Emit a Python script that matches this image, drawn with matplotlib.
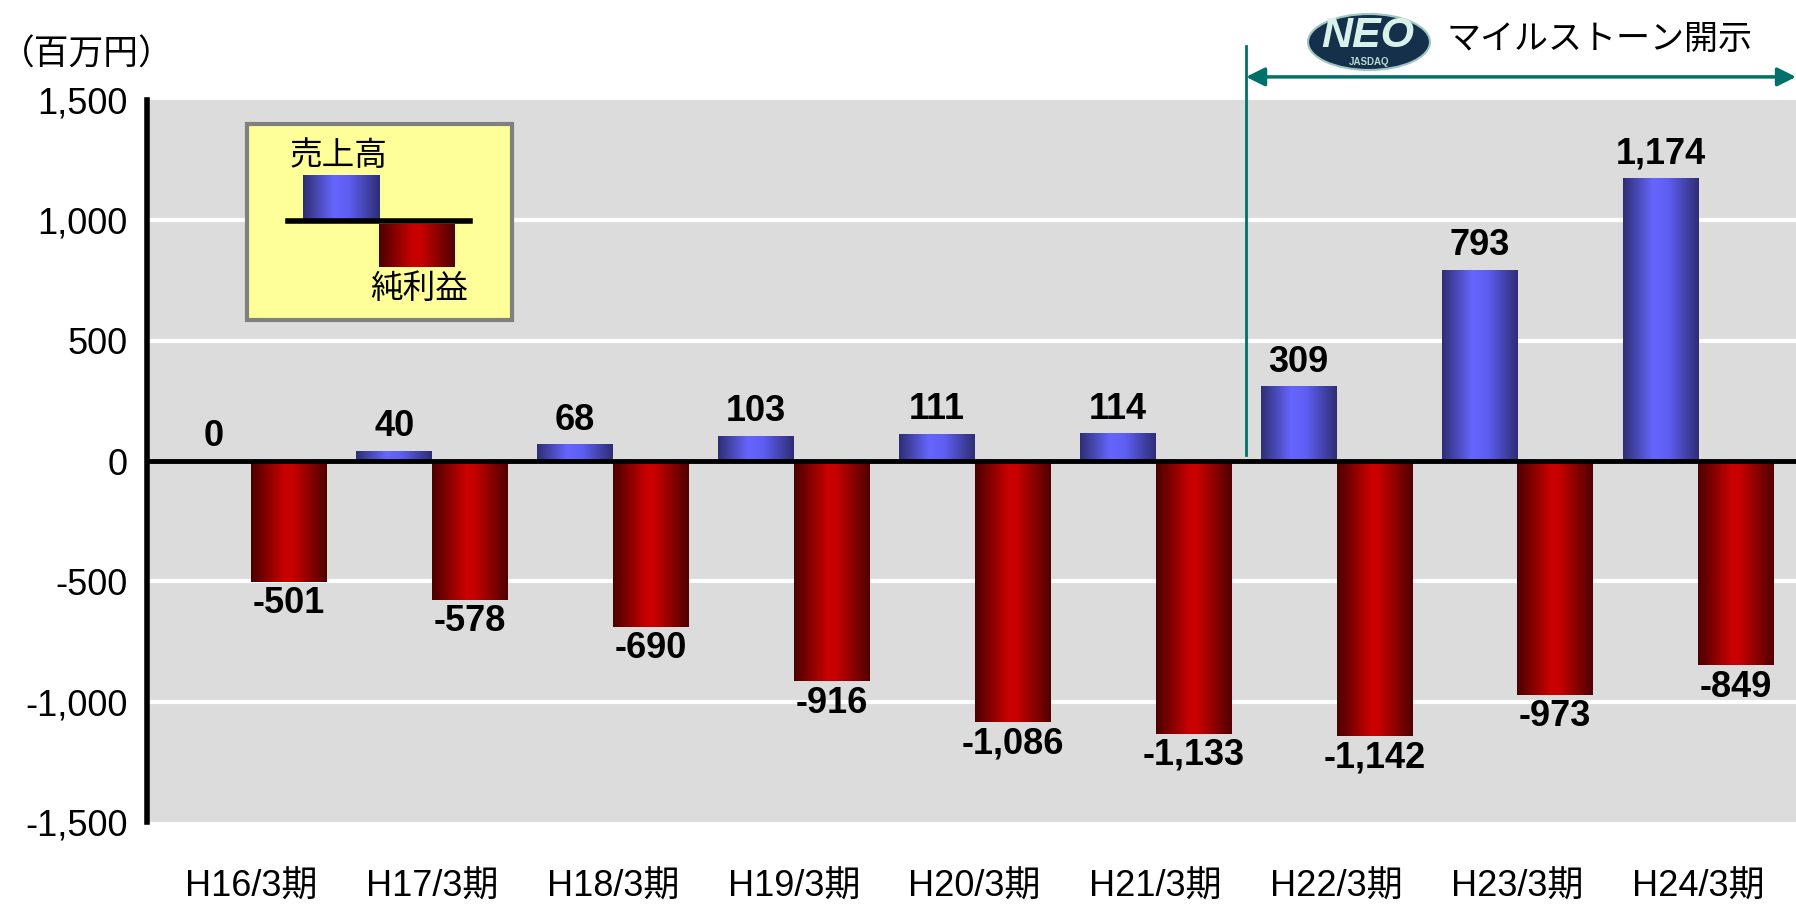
import numpy as np
import matplotlib
matplotlib.use("Agg")
import matplotlib.pyplot as plt
from matplotlib.colors import LinearSegmentedColormap
from matplotlib.patches import Rectangle, Ellipse

plt.rcParams['font.family'] = ['Liberation Sans', 'Noto Sans CJK JP', 'DejaVu Sans']

periods = ["H16/3期", "H17/3期", "H18/3期", "H19/3期", "H20/3期",
           "H21/3期", "H22/3期", "H23/3期", "H24/3期"]
sales = [0, 40, 68, 103, 111, 114, 309, 793, 1174]
net_income = [-501, -578, -690, -916, -1086, -1133, -1142, -973, -849]
yticks = [-1500, -1000, -500, 0, 500, 1000, 1500]

blue_cmap = LinearSegmentedColormap.from_list(
    "blue", [(0, "#2e2e74"), (0.4, "#6666ff"), (0.6, "#5e5ef2"), (1, "#2e2e74")])
red_cmap = LinearSegmentedColormap.from_list(
    "red", [(0, "#4a0000"), (0.45, "#cc0000"), (0.55, "#c80000"), (1, "#500000")])
grad = np.linspace(0, 1, 256).reshape(1, -1)


def fill_gradient(ax, patches, cmap):
    # paint each bar with a horizontal shading gradient
    for p in patches:
        x0, y0 = p.get_x(), p.get_y()
        w, h = p.get_width(), p.get_height()
        if h == 0:
            continue
        p.set_facecolor("none")
        ax.imshow(grad, extent=[x0, x0 + w, min(y0, y0 + h), max(y0, y0 + h)],
                  aspect="auto", cmap=cmap, zorder=2, interpolation="bicubic")


fig = plt.figure(figsize=(17.96, 9.05), dpi=100)
ax = fig.add_axes([0.0818, 0.0917, 0.9182, 0.7978])
ax.set_facecolor("#dcdcdc")

x = np.arange(len(periods))
w = 0.418
b1 = ax.bar(x - w / 2, sales, width=w, edgecolor="none", zorder=2)
b2 = ax.bar(x + w / 2, net_income, width=w, edgecolor="none", zorder=2)
fill_gradient(ax, b1, blue_cmap)
fill_gradient(ax, b2, red_cmap)

for xi, v in zip(x, sales):
    ax.annotate(f"{v:,}", (xi - w / 2, v), xytext=(0, 5), textcoords="offset points",
                ha="center", va="bottom", fontsize=26, fontweight="bold", zorder=5)
for xi, v in zip(x, net_income):
    ax.annotate(f"{v:,}", (xi + w / 2, v), xytext=(0, -3), textcoords="offset points",
                ha="center", va="top", fontsize=26, fontweight="bold", zorder=5)

ax.set_xlim(-0.576, 8.54)
ax.set_ylim(-1500, 1500)
ax.set_yticks(yticks)
ax.set_yticklabels([f"{t:,}" for t in yticks], fontsize=26)
ax.set_xticks(x)
ax.set_xticklabels(periods, fontsize=26)
ax.tick_params(axis="x", length=0, pad=34)
ax.tick_params(axis="y", length=0, pad=14)
for t in yticks:
    if t not in (0, -1500, 1500):
        ax.axhline(t, color="white", lw=3, zorder=1)
ax.axhline(0, color="black", lw=3.5, zorder=3)
for s in ["top", "right", "bottom"]:
    ax.spines[s].set_visible(False)
ax.spines["left"].set_linewidth(4)

# milestone marker
teal = "#00706a"
ax.plot([5.5, 5.5], [25, 1725], color=teal, lw=2, clip_on=False, zorder=4)
ax.annotate("", xy=(8.54, 1596), xytext=(5.5, 1596), xycoords="data",
            arrowprops=dict(arrowstyle="<|-|>", color=teal, lw=2.5,
                            mutation_scale=28, shrinkA=0, shrinkB=0),
            annotation_clip=False, zorder=4)

# overlay in pixel coordinates for decorations
ov = fig.add_axes([0, 0, 1, 1])
ov.set_xlim(0, 1796)
ov.set_ylim(905, 0)
ov.axis("off")
ov.patch.set_alpha(0)

ov.text(0, 55, "（百万円）", fontsize=25, ha="left", va="center")

# NEO logo
ov.add_patch(Ellipse((1369, 42), 122, 56, facecolor="#15304a", edgecolor="#9fc6c0", lw=1.5))
ov.text(1368, 36, "NEO", fontsize=31, fontweight="bold", style="italic",
        color="#d8f2ea", ha="center", va="center")
ov.text(1369, 62, "JASDAQ", fontsize=7, fontweight="bold", color="#b8d8d0",
        ha="center", va="center")
ov.text(1446, 40, "マイルストーン開示", fontsize=24.5, ha="left", va="center")

# legend box
ov.add_patch(Rectangle((247, 124), 265, 196, facecolor="#ffff99", edgecolor="#808080", lw=3))
ov.imshow(grad, extent=[303, 380, 219, 176], aspect="auto", cmap=blue_cmap, zorder=3)
ov.imshow(grad, extent=[379, 455, 267, 224], aspect="auto", cmap=red_cmap, zorder=3)
ov.plot([288, 470], [221.5, 221.5], color="black", lw=4, zorder=4)
ov.text(290, 156, "売上高", fontsize=23.5, ha="left", va="center", zorder=5)
ov.text(370, 289, "純利益", fontsize=23.5, ha="left", va="center", zorder=5)
ov.set_xlim(0, 1796)
ov.set_ylim(905, 0)

fig.savefig("out.png", dpi=100)
